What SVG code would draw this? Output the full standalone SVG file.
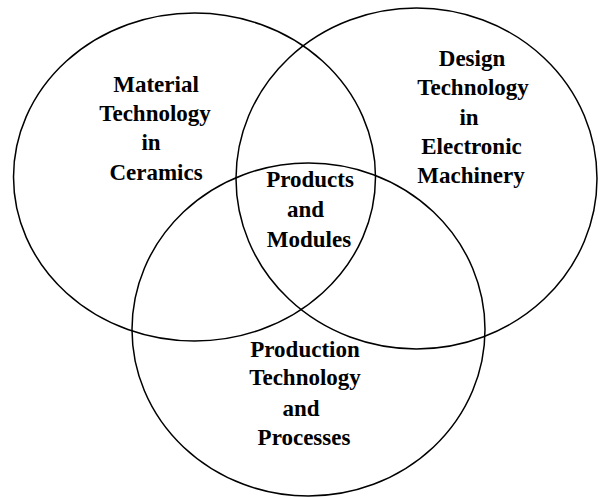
<svg xmlns="http://www.w3.org/2000/svg" width="598" height="498" viewBox="0 0 598 498">
<style>
.c{fill:none;stroke:#000;stroke-width:1.5}
.t{font-family:"Liberation Serif","Times New Roman",serif;font-weight:bold;font-size:23px;text-anchor:middle;fill:#000}
</style>
<rect width="598" height="498" fill="#fff"/>
<g id="material">
<ellipse class="c" cx="194.5" cy="177" rx="181" ry="164"/>
<text class="t"><tspan x="156" y="92">Material</tspan><tspan x="155" y="121">Technology</tspan><tspan x="151" y="150">in</tspan><tspan x="156" y="180">Ceramics</tspan></text>
</g>
<g id="design">
<ellipse class="c" cx="416.5" cy="178.5" rx="180.5" ry="170.5"/>
<text class="t"><tspan x="472" y="66">Design</tspan><tspan x="473" y="95">Technology</tspan><tspan x="469" y="125">in</tspan><tspan x="471.5" y="154">Electronic</tspan><tspan x="471" y="183">Machinery</tspan></text>
</g>
<g id="production">
<ellipse class="c" cx="308.5" cy="329.5" rx="176.5" ry="166.5"/>
<text class="t"><tspan x="305" y="357">Production</tspan><tspan x="305" y="385">Technology</tspan><tspan x="301" y="416">and</tspan><tspan x="304" y="445">Processes</tspan></text>
</g>
<g id="products">
<text class="t"><tspan x="310" y="187">Products</tspan><tspan x="305.5" y="217">and</tspan><tspan x="309" y="247">Modules</tspan></text>
</g>
<g id="connectors"></g>
</svg>
